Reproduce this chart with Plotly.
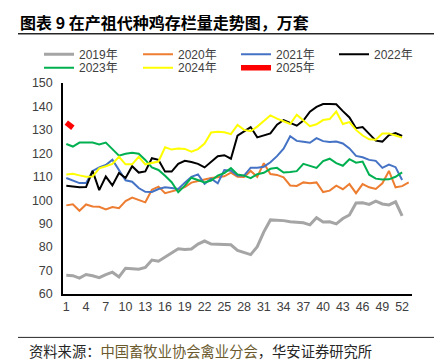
import plotly.graph_objects as go

weeks = list(range(1, 54))

y2019 = [68, 67.8, 66.8, 68.3, 67.8, 67, 68.3, 69.3, 67.3, 71, 70.8, 70.6, 71.3, 74.5, 74, 75.8, 77.8, 79.3,
         79, 79.2, 81.3, 82.6, 81.3, 81.1, 81, 81, 78.6, 77.8, 76.8, 80.2, 86.5, 91.6, 91.5, 91.3, 90.8, 90.6,
         90.4, 89.5, 92.5, 90.7, 90.8, 89.9, 92.2, 93.7, 98.8, 98.9, 98.2, 99.6, 98.4, 98, 99.3, 93.3]
y2020 = [97.8, 98.3, 95.5, 98.2, 97.3, 97.2, 96.1, 97.1, 96.6, 99.6, 101.1, 100, 99.1, 104.5, 105.8, 103, 103.6,
         104.5, 105.6, 107.5, 108.2, 109, 109.5, 109.8, 110.2, 111.8, 110, 109.9, 112.5, 110, 115.8, 111.2, 110.8,
         109.8, 106.3, 106.1, 107.6, 107.2, 107.6, 103.5, 104.1, 106.2, 104.7, 106.9, 103, 106.9, 105.5, 104.8,
         107.2, 112.5, 105.5, 106, 107.6]
y2021 = [109.5, 108.5, 107.3, 107.3, 112.5, 114, 115, 117.3, 113, 108.5, 107.9, 105.2, 103.6, 103.5, 104.8, 105.5,
         105.2, 104.8, 107.5, 110, 111, 107, 109.2, 107.2, 112.9, 112.6, 110.5, 110.5, 113.9, 113.9, 114.3, 116.2,
         118.8, 122, 127.3, 125.3, 124.9, 124.5, 126.5, 125.2, 124.8, 125, 124.2, 122.1, 118.9, 118.3, 117.2, 116.8,
         113.8, 115.2, 114.1, 108.6]
y2022 = [106.2, 105.8, 105.5, 105.6, 112.5, 104.3, 110.1, 106.3, 111.6, 109.5, 114.5, 111.8, 112.3, 117.9, 117.2,
         112.2, 112.2, 115.5, 116.8, 116.3, 115.5, 114, 116.5, 118.8, 119.2, 117.7, 127.5, 129.5, 131.2, 126.8, 127.5,
         128.5, 132.2, 134.2, 133, 131.8, 134, 137.8, 139.8, 141, 141, 140.9, 138, 135.3, 130.7, 131.2, 128.3, 125.4,
         125, 127.8, 128.6, 127.4]
y2023 = [124, 122.9, 124.6, 124.6, 124.6, 123.8, 124.6, 121.8, 119, 119.8, 120.2, 119.8, 117.2, 114, 112.9, 110.4,
         107.7, 103.4, 106.2, 109.6, 108.5, 107.6, 108.4, 110.5, 111.6, 113.7, 111, 110.5, 109.4, 111.1, 111.7, 113.4,
         113.8, 111.8, 112, 112.4, 115.5, 114.5, 113.8, 116.7, 117.7, 115.8, 114.7, 117.5, 116, 116.5, 110.9, 109.2,
         108.8, 108.9, 110, 111.9]
y2024 = [111, 111.3, 110.6, 110, 110.1, 113.6, 114.5, 115.5, 118.5, 115.3, 115.3, 118.5, 115.3, 115.9, 116.5, 122.6,
         121.6, 122.1, 121.9, 120.7, 121.8, 124.2, 128.9, 129.2, 129, 128.2, 132.1, 130, 129.4, 131.4, 133.6, 136.2,
         134.8, 133.5, 132.5, 136.5, 134, 131.6, 132.4, 134.2, 134.6, 137.8, 132.5, 133.3, 130, 127.6, 126, 125.8,
         128.5, 128.5, 127.6, 126.7]
y2025 = [133.1, 130.9]

series_names = ["2019年", "2020年", "2021年", "2022年", "2023年", "2024年", "2025年"]
x_ticks = list(range(1, 53, 3))
y_ticks = list(range(60, 151, 10))

series = [y2019, y2020, y2021, y2022, y2023, y2024, y2025]
colors = ["#A5A5A5", "#ED7D31", "#4472C4", "#000000", "#00B050", "#FFFF00", "#FF0000"]
widths = [3, 2, 2, 2, 2, 2, 5.5]
# legend entry positions (px): text start x, row centre y
leg_text_x = [79, 178, 276, 374, 79, 178, 276]
leg_row_y = [54.3, 54.3, 54.3, 54.3, 67.7, 67.7, 67.7]

W, H = 434, 362
L, R, T, B = 63, 22, 83, 67.5
pw = W - L - R
ph = H - T - B


def px(x):
    return (x - L) / pw


def py(y):
    return (H - B - y) / ph


font_family = "Liberation Sans, Noto Sans CJK SC, sans-serif"

fig = go.Figure()
layout_legends = {}
for i, (name, vals, c, w) in enumerate(zip(series_names, series, colors, widths)):
    lg = "legend" if i == 0 else f"legend{i + 1}"
    fig.add_trace(go.Scatter(x=weeks[:len(vals)], y=vals, name=name, mode="lines",
                             line=dict(color=c, width=w), legend=lg))
    layout_legends[lg] = dict(orientation="h", xanchor="left", yanchor="middle", bgcolor="rgba(0,0,0,0)",
                              x=px(leg_text_x[i] - 40), y=py(leg_row_y[i]), borderwidth=0,
                              font=dict(family=font_family, size=12, color="#404040"))

fig.update_layout(
    width=W, height=H,
    margin=dict(l=L, r=R, t=T, b=B, autoexpand=False),
    plot_bgcolor="white", paper_bgcolor="white",
    showlegend=True,
    xaxis=dict(range=[0.5, 53.5], tickmode="array", tickvals=x_ticks, ticktext=[str(v) for v in x_ticks],
               showgrid=False, zeroline=False, showline=True, linecolor="#000000", linewidth=1.5,
               ticks="", tickfont=dict(family=font_family, size=12.5, color="#404040")),
    yaxis=dict(range=[60, 150], tickmode="array", tickvals=y_ticks, ticktext=[str(v) for v in y_ticks],
               showgrid=False, zeroline=False, showline=True, linecolor="#000000", linewidth=1.5,
               ticks="", ticklabelstandoff=6, tickfont=dict(family=font_family, size=12.5, color="#404040")),
    shapes=[
        dict(type="line", xref="paper", yref="paper", x0=px(18), x1=px(434), y0=py(33.7), y1=py(33.7),
             line=dict(color="#262626", width=1.5)),
        dict(type="line", xref="paper", yref="paper", x0=px(18), x1=px(434), y0=py(338), y1=py(338),
             line=dict(color="#262626", width=1)),
    ],
    annotations=[
        dict(xref="paper", yref="paper", x=px(18), y=py(22), xanchor="left", yanchor="middle", showarrow=False,
             text="<b>图表 9 在产祖代种鸡存栏量走势图，万套</b>",
             font=dict(family="Noto Sans CJK SC, sans-serif", size=16, color="#000000")),
        dict(xref="paper", yref="paper", x=px(27), y=py(351.5), xanchor="left", yanchor="middle", showarrow=False,
             text="资料来源：<span style='color:#6B5A2E'>中国畜牧业协会禽业分会</span>，华安证券研究所",
             font=dict(family="Noto Sans CJK SC, sans-serif", size=14.3, color="#262626")),
    ],
)
fig.update_layout(**layout_legends)

fig.write_html("out.html", config={"displayModeBar": False},
               post_script="document.body.style.margin='0';document.body.style.padding='0';")
